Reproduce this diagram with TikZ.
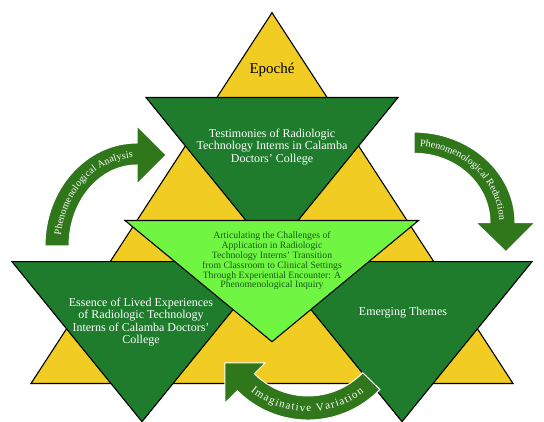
\documentclass[tikz,border=0pt]{standalone}
\usepackage{fontspec}
\setmainfont{Liberation Serif}
\usetikzlibrary{decorations.text}

\definecolor{epyellow}{RGB}{241,204,34}
\definecolor{themegreen}{RGB}{30,124,44}
\definecolor{coregreen}{RGB}{112,246,66}
\definecolor{arrowgreen}{RGB}{48,118,26}
\definecolor{inkgreen}{RGB}{22,92,22}

\begin{document}
\begin{tikzpicture}[x=1pt,y=1pt,
    tri/.style={draw=black, line width=1.1pt},
    curvearrow/.style={fill=arrowgreen, draw=white, line width=1pt},
    whitetext/.style={text=white, align=center, inner sep=0pt, font=\fontsize{12}{12.4}\selectfont},
    looptext/.style 2 args={decorate, decoration={text along path, text align={fit to path}, raise=-3.4pt,
        text={|\color{white}\fontsize{#1}{#1}\selectfont|#2}}}]
    \useasboundingbox (0,0) rectangle (544,422);
    % base triangle
    \filldraw[tri, fill=epyellow] (272,409.3) -- (513,38.5) -- (31,38.5) -- cycle;
    % the three inverted triangles
    \filldraw[tri, fill=themegreen] (146,324.5) -- (398,324.5) -- (272,169.5) -- cycle;
    \filldraw[tri, fill=themegreen] (12,160.3) -- (272,160.3) -- (142,0.3) -- cycle;
    \filldraw[tri, fill=themegreen] (272,160.3) -- (532,160.3) -- (402,0.3) -- cycle;
    % centre
    \filldraw[tri, fill=coregreen] (125,201.5) -- (418.5,201.5) -- (272,80.3) -- cycle;

    \node[font=\fontsize{15}{15}\selectfont] (epoche) at (272,352) {Epoché};
    \node[whitetext] (testimonies) at (272,275)
        {Testimonies of Radiologic\\Technology Interns in Calamba\\Doctors' College};
    \node[text=inkgreen, align=center, inner sep=0pt, font=\fontsize{9.7}{8.8}\selectfont] (inquiry) at (272,161)
        {Articulating the Challenges of\\Application in Radiologic\\Technology Interns' Transition\\from Classroom to Clinical Settings\\Through Experiential Encounter: A\\Phenomenological Inquiry};
    \node[whitetext] (essence) at (141,100)
        {Essence of Lived Experiences\\of Radiologic Technology\\Interns of Calamba Doctors'\\College};
    \node[whitetext] (themes) at (403,109) {Emerging Themes};

    % curved arrows
    \filldraw[curvearrow] (45,176) arc[start angle=180, end angle=90, x radius=92, y radius=103]
        -- (137,296) -- (166,267) -- (137,238) -- (137,257)
        arc[start angle=90, end angle=180, x radius=68, y radius=81] -- cycle;
    \path[looptext={10}{Phenomenological Analysis}] (57.6,187.2) arc[start angle=173, end angle=93, x radius=80, y radius=92];

    \filldraw[curvearrow] (414,289.9) arc[start angle=90, end angle=0, x radius=101, y radius=90.6]
        -- (535,199.3) -- (506,170.3) -- (476,199.3) -- (490,199.3)
        arc[start angle=0, end angle=90, x radius=76, y radius=69.4] -- cycle;
    \path[looptext={10}{Phenomenological Reduction}] (420.2,279.1) arc[start angle=86, end angle=2, x radius=88.5, y radius=80];

    \filldraw[curvearrow] (254.3,48.3) arc[start angle=225, end angle=316, radius=76]
        -- (379.9,32.5) arc[start angle=316, end angle=225, radius=100]
        -- (224.8,18.8) -- (224.8,59.2) -- (265.1,59.1) -- cycle;
    \path[looptext={11}{Imaginative Variation}] (252.6,33.6) arc[start angle=231, end angle=308, radius=88];
\end{tikzpicture}
\end{document}
